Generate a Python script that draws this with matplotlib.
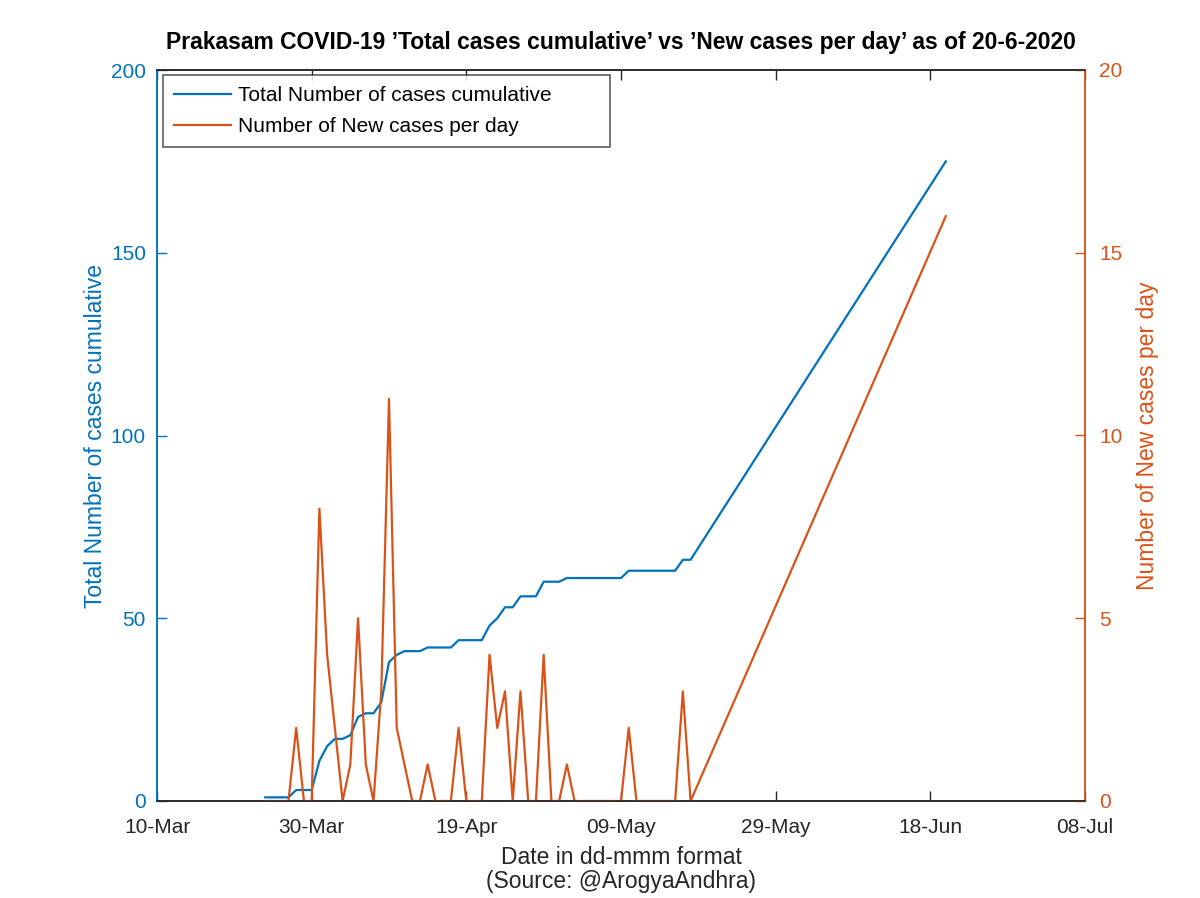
import matplotlib
matplotlib.use("Agg")
import matplotlib.pyplot as plt
import matplotlib.dates as mdates
import numpy as np
import datetime as dt

plt.rcParams['font.family'] = ['Liberation Sans', 'DejaVu Sans']

start = dt.date(2020, 3, 24)
dates = [start + dt.timedelta(days=i) for i in range(56)] + [dt.date(2020, 6, 20)]
total_cumulative = [1, 1, 1, 1, 3, 3, 3, 11, 15, 17, 17, 18, 23, 24, 24, 27, 38, 40, 41, 41,
                    41, 42, 42, 42, 42, 44, 44, 44, 44, 48, 50, 53, 53, 56, 56, 56, 60, 60, 60, 61,
                    61, 61, 61, 61, 61, 61, 61, 63, 63, 63, 63, 63, 63, 63, 66, 66, 175]
new_per_day = [0, 0, 0, 0, 2, 0, 0, 8, 4, 2, 0, 1, 5, 1, 0, 3, 11, 2, 1, 0,
               0, 1, 0, 0, 0, 2, 0, 0, 0, 4, 2, 3, 0, 3, 0, 0, 4, 0, 0, 1,
               0, 0, 0, 0, 0, 0, 0, 2, 0, 0, 0, 0, 0, 0, 3, 0, 16]
tick_dates = [dt.date(2020, 3, 10) + dt.timedelta(days=20 * i) for i in range(7)]
tick_labels = ['10-Mar', '30-Mar', '19-Apr', '09-May', '29-May', '18-Jun', '08-Jul']

blue = '#0072BD'
orange = '#D95319'
dark = '#262626'

fig = plt.figure(figsize=(12, 8.98), dpi=100)
ax = fig.add_axes([157/1200, 1 - 801/898, (1085-157)/1200, (801-70)/898])
ax2 = ax.twinx()

l1, = ax.plot(dates, total_cumulative, color=blue, lw=1.6, label='Total Number of cases cumulative')
l2, = ax2.plot(dates, new_per_day, color=orange, lw=1.6, label='Number of New cases per day')

ax.set_xlim(tick_dates[0], tick_dates[-1])
ax.set_ylim(0, 200)
ax2.set_ylim(0, 20)
ax.set_yticks([0, 50, 100, 150, 200])
ax2.set_yticks([0, 5, 10, 15, 20])
ax.set_xticks(tick_dates)
ax.set_xticklabels(tick_labels)

fs = 15
lfs = 16.5
ax.tick_params(axis='x', direction='in', top=True, length=7, width=1, labelsize=fs, colors=dark, pad=12)
ax.tick_params(axis='y', direction='in', length=7, width=1, labelsize=fs, colors=blue, pad=8)
ax2.tick_params(axis='y', direction='in', length=7, width=1, labelsize=fs, colors=orange, pad=10)
for a in (ax, ax2):
    a.spines['top'].set_color(dark)
    a.spines['bottom'].set_color(dark)
    a.spines['left'].set_color(blue)
    a.spines['right'].set_color(orange)
    for s in a.spines.values():
        s.set_linewidth(1.1)

ax.set_ylabel('Total Number of cases cumulative', color=blue, fontsize=lfs, labelpad=3)
ax2.set_ylabel('Number of New cases per day', color=orange, fontsize=lfs, labelpad=10)
ax.set_xlabel('Date in dd-mmm format\n(Source: @ArogyaAndhra)', color=dark, fontsize=lfs,
              labelpad=7, linespacing=1.05)
ax.set_title("Prakasam COVID-19 \u2019Total cases cumulative\u2019 vs \u2019New cases per day\u2019 as of 20-6-2020",
             fontsize=16.5, fontweight='bold', pad=15)

x0 = (163 - 157) / 928
w = (610 - 163) / 928
ytop = (801 - 75) / 731
leg = ax.legend(handles=[l1, l2], loc='upper left', fontsize=fs, frameon=True, fancybox=False,
                edgecolor=dark, handlelength=2.7, handletextpad=0.35, labelspacing=0.55,
                borderaxespad=0.0, borderpad=0.55, mode='expand',
                bbox_to_anchor=(x0, ytop - 0.2, w, 0.2))
leg.get_frame().set_linewidth(1.1)

fig.savefig('out.png', dpi=100)
